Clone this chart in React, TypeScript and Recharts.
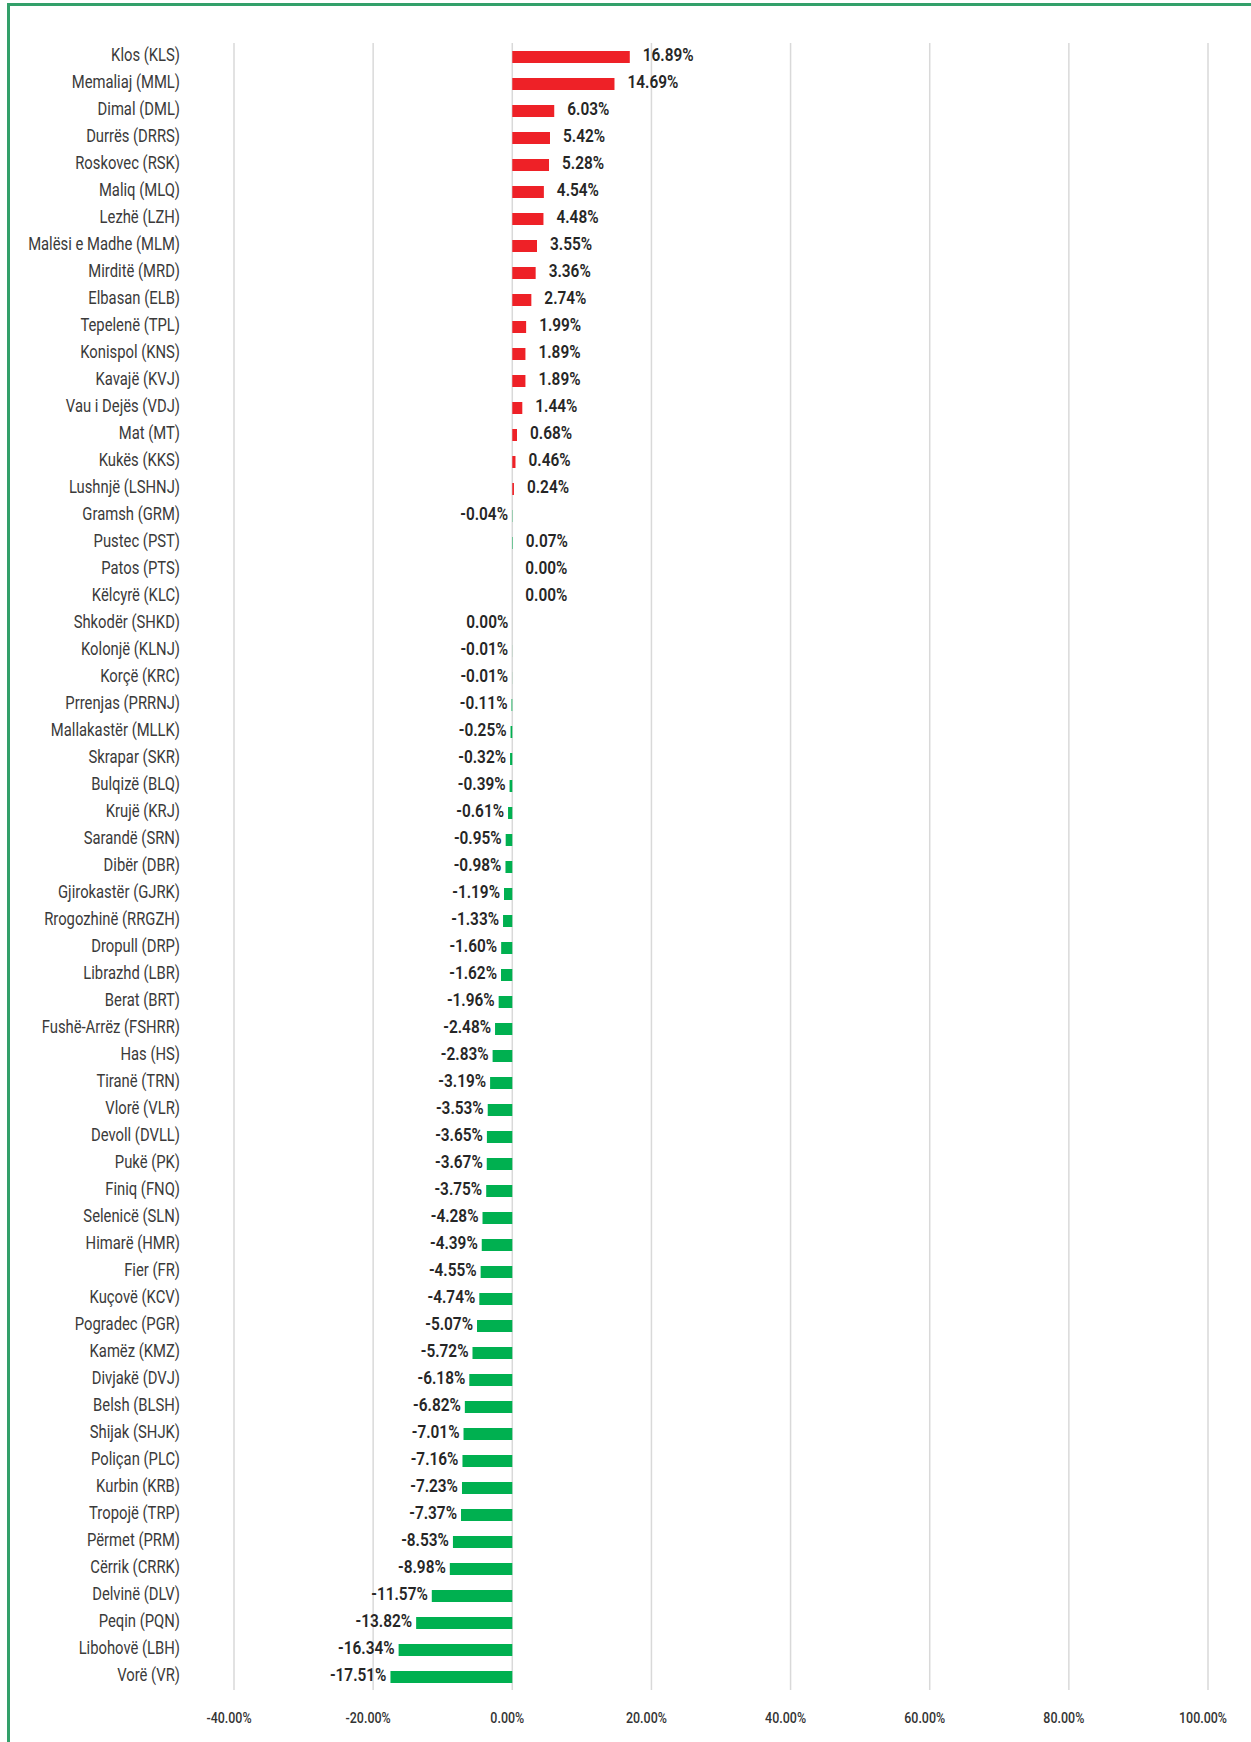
import React from 'react';
import { BarChart, Bar, XAxis, YAxis, CartesianGrid, Cell, LabelList } from 'recharts';

const categories = [
  'Klos (KLS)', 'Memaliaj (MML)', 'Dimal (DML)', 'Durrës (DRRS)', 'Roskovec (RSK)', 'Maliq (MLQ)',
  'Lezhë (LZH)', 'Malësi e Madhe (MLM)', 'Mirditë (MRD)', 'Elbasan (ELB)', 'Tepelenë (TPL)',
  'Konispol (KNS)', 'Kavajë (KVJ)', 'Vau i Dejës (VDJ)', 'Mat (MT)', 'Kukës (KKS)', 'Lushnjë (LSHNJ)',
  'Gramsh (GRM)', 'Pustec (PST)', 'Patos (PTS)', 'Këlcyrë (KLC)', 'Shkodër (SHKD)', 'Kolonjë (KLNJ)',
  'Korçë (KRC)', 'Prrenjas (PRRNJ)', 'Mallakastër (MLLK)', 'Skrapar (SKR)', 'Bulqizë (BLQ)',
  'Krujë (KRJ)', 'Sarandë (SRN)', 'Dibër (DBR)', 'Gjirokastër (GJRK)', 'Rrogozhinë (RRGZH)',
  'Dropull (DRP)', 'Librazhd (LBR)', 'Berat (BRT)', 'Fushë-Arrëz (FSHRR)', 'Has (HS)', 'Tiranë (TRN)',
  'Vlorë (VLR)', 'Devoll (DVLL)', 'Pukë (PK)', 'Finiq (FNQ)', 'Selenicë (SLN)', 'Himarë (HMR)',
  'Fier (FR)', 'Kuçovë (KCV)', 'Pogradec (PGR)', 'Kamëz (KMZ)', 'Divjakë (DVJ)', 'Belsh (BLSH)',
  'Shijak (SHJK)', 'Poliçan (PLC)', 'Kurbin (KRB)', 'Tropojë (TRP)', 'Përmet (PRM)', 'Cërrik (CRRK)',
  'Delvinë (DLV)', 'Peqin (PQN)', 'Libohovë (LBH)', 'Vorë (VR)',
];

// percent change; Shkodër is a tiny negative shown as 0.00%
const changes = [
  16.89, 14.69, 6.03, 5.42, 5.28, 4.54, 4.48, 3.55, 3.36, 2.74, 1.99, 1.89, 1.89, 1.44, 0.68, 0.46, 0.24,
  -0.04, 0.07, 0, 0, -0.001, -0.01, -0.01, -0.11, -0.25, -0.32, -0.39, -0.61, -0.95, -0.98, -1.19, -1.33,
  -1.6, -1.62, -1.96, -2.48, -2.83, -3.19, -3.53, -3.65, -3.67, -3.75, -4.28, -4.39, -4.55, -4.74, -5.07,
  -5.72, -6.18, -6.82, -7.01, -7.16, -7.23, -7.37, -8.53, -8.98, -11.57, -13.82, -16.34, -17.51,
];

// drawn green although the value is positive
const greenPositives = ['Pustec (PST)'];

const xTicks = [-40, -20, 0, 20, 40, 60, 80, 100];

const RED = '#ee2127';
const GREEN = '#00b050';
const FONT = 'Roboto, sans-serif';

const data = categories.map((name, i) => ({ name, value: changes[i] }));

const fmt = (v: number) => (Math.abs(v) < 0.005 ? '0.00%' : `${v.toFixed(2)}%`);

// condensed look: squeeze text horizontally around its anchor
const Squeezed = ({ x, y, sx, anchor, size, weight, fill, children }: any) => (
  <text
    transform={`translate(${x},${y}) scale(${sx},1)`}
    textAnchor={anchor}
    fontFamily={FONT}
    fontSize={size}
    fontWeight={weight}
    fill={fill}
  >
    {children}
  </text>
);

const CategoryTick = (props: any) => {
  const { x, y, payload } = props;
  return (
    <Squeezed x={x} y={y + 4.2} sx={0.8} anchor="end" size={18.5} weight={400} fill="#3a3a3a">
      {payload.value}
    </Squeezed>
  );
};

const PercentTick = (props: any) => {
  const { x, y, payload } = props;
  return (
    <Squeezed x={x - 5} y={y + 10} sx={0.86} anchor="middle" size={14.5} weight={500} fill="#333333">
      {`${payload.value.toFixed(2)}%`}
    </Squeezed>
  );
};

const ValueLabel = (props: any) => {
  const { x, y, width, height, value } = props;
  const a = Number(x);
  const b = Number(x) + Number(width);
  const cy = Number(y) + Number(height) / 2;
  const neg = value < 0;
  const end = neg ? Math.min(a, b) : Math.max(a, b);
  return (
    <Squeezed
      x={neg ? end - 4 : end + 13}
      y={cy + 4}
      sx={0.88}
      anchor={neg ? 'end' : 'start'}
      size={17.5}
      weight={600}
      fill="#262626"
    >
      {fmt(value)}
    </Squeezed>
  );
};

const App: React.FC = () => {
  return (
    <div style={{ position: 'absolute', left: 0, top: 0, width: 1251, height: 1742, background: '#fff', overflow: 'hidden' }}>
      <div
        style={{
          position: 'absolute', left: 7, top: 3, width: 1260, height: 1760,
          borderTop: '3px solid #33a06a', borderLeft: '3px solid #33a06a',
        }}
      />
      <div style={{ position: 'absolute', left: 0, top: 0 }}>
        <BarChart
          width={1251}
          height={1742}
          layout="vertical"
          data={data}
          margin={{ top: 43, right: 43, bottom: 0, left: 0 }}
          barSize={12}
        >
          <CartesianGrid horizontal={false} stroke="#d9d9d9" strokeWidth={1.5} />
          <XAxis
            type="number"
            domain={[-40, 100]}
            ticks={xTicks}
            height={52}
            axisLine={false}
            tickLine={false}
            tickSize={0}
            tickMargin={23}
            interval={0}
            tick={<PercentTick />}
          />
          <YAxis
            type="category"
            dataKey="name"
            width={234}
            axisLine={false}
            tickLine={false}
            tickSize={0}
            tickMargin={54}
            interval={0}
            tick={<CategoryTick />}
          />
          <Bar dataKey="value" isAnimationActive={false} minPointSize={(v: number) => (v === 0 ? 0.01 : 0)}>
            {data.map((d) => (
              <Cell key={d.name} fill={d.value > 0 && !greenPositives.includes(d.name) ? RED : GREEN} />
            ))}
            <LabelList dataKey="value" content={ValueLabel} />
          </Bar>
        </BarChart>
      </div>
    </div>
  );
};

export default App;
